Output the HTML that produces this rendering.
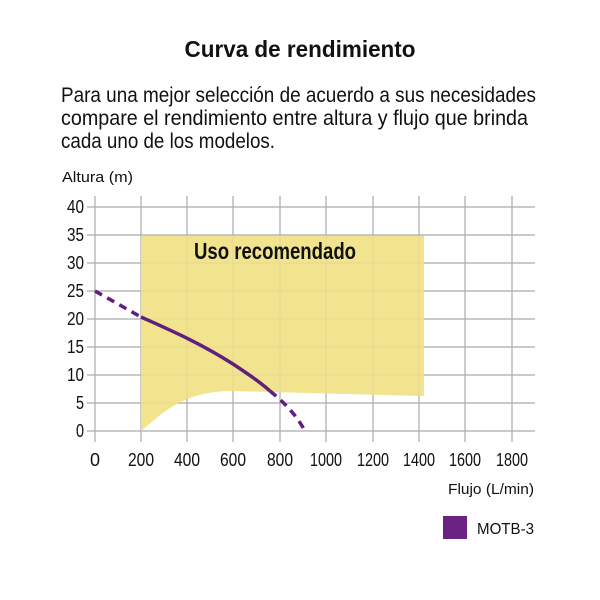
<!DOCTYPE html>
<html><head><meta charset="utf-8"><style>
html,body{margin:0;padding:0;background:#fff}
svg{display:block}
text{font-family:"Liberation Sans Narrow","Liberation Sans",sans-serif;fill:#111}
</style></head><body>
<svg width="600" height="600" viewBox="0 0 600 600">
<text x="300" y="57" font-size="23" font-weight="bold" text-anchor="middle" textLength="231" lengthAdjust="spacingAndGlyphs">Curva de rendimiento</text>
<text x="61" y="102" font-size="21" textLength="475" lengthAdjust="spacingAndGlyphs">Para una mejor selección de acuerdo a sus necesidades</text>
<text x="61" y="125" font-size="21" textLength="467" lengthAdjust="spacingAndGlyphs">compare el rendimiento entre altura y flujo que brinda</text>
<text x="61" y="148" font-size="21" textLength="214" lengthAdjust="spacingAndGlyphs">cada uno de los modelos.</text>
<text x="62" y="182" font-size="15" textLength="71" lengthAdjust="spacingAndGlyphs">Altura (m)</text>
<path d="M141,235.5 H424 V396 L233,391 C200,391 180,400 160,415 L141,431 Z" fill="#f2e48e"/>
<g stroke="#aaa" stroke-width="1.2">
<line x1="87" y1="207" x2="535" y2="207"/><line x1="87" y1="235" x2="535" y2="235"/>
<line x1="87" y1="263" x2="535" y2="263"/><line x1="87" y1="291" x2="535" y2="291"/>
<line x1="87" y1="319" x2="535" y2="319"/><line x1="87" y1="347" x2="535" y2="347"/>
<line x1="87" y1="375" x2="535" y2="375"/><line x1="87" y1="403" x2="535" y2="403"/>
<line x1="87" y1="431" x2="535" y2="431"/>
<line x1="95" y1="196" x2="95" y2="442"/><line x1="141" y1="196" x2="141" y2="442"/>
<line x1="187" y1="196" x2="187" y2="442"/><line x1="233" y1="196" x2="233" y2="442"/>
<line x1="280" y1="196" x2="280" y2="442"/><line x1="326" y1="196" x2="326" y2="442"/>
<line x1="373" y1="196" x2="373" y2="442"/><line x1="419" y1="196" x2="419" y2="442"/>
<line x1="465" y1="196" x2="465" y2="442"/><line x1="512" y1="196" x2="512" y2="442"/>
</g>
<path d="M141,235.5 H424 V396 L233,391 C200,391 180,400 160,415 L141,431 Z" fill="#f2e48e" opacity="0.85"/>
<text x="194" y="259" font-size="23" font-weight="bold" textLength="162" lengthAdjust="spacingAndGlyphs">Uso recomendado</text>
<g font-size="18" text-anchor="end">
<text x="84" y="213" textLength="17" lengthAdjust="spacingAndGlyphs">40</text><text x="84" y="241" textLength="17" lengthAdjust="spacingAndGlyphs">35</text><text x="84" y="269" textLength="17" lengthAdjust="spacingAndGlyphs">30</text>
<text x="84" y="297" textLength="17" lengthAdjust="spacingAndGlyphs">25</text><text x="84" y="325" textLength="17" lengthAdjust="spacingAndGlyphs">20</text><text x="84" y="353" textLength="17" lengthAdjust="spacingAndGlyphs">15</text>
<text x="84" y="381" textLength="17" lengthAdjust="spacingAndGlyphs">10</text><text x="84" y="409" textLength="8" lengthAdjust="spacingAndGlyphs">5</text><text x="84" y="437" textLength="8" lengthAdjust="spacingAndGlyphs">0</text>
</g>
<g font-size="18" text-anchor="middle">
<text x="95" y="466">0</text>
<text x="141" y="466" textLength="26" lengthAdjust="spacingAndGlyphs">200</text>
<text x="187" y="466" textLength="26" lengthAdjust="spacingAndGlyphs">400</text>
<text x="233" y="466" textLength="26" lengthAdjust="spacingAndGlyphs">600</text>
<text x="280" y="466" textLength="26" lengthAdjust="spacingAndGlyphs">800</text>
<text x="326" y="466" textLength="32" lengthAdjust="spacingAndGlyphs">1000</text>
<text x="373" y="466" textLength="32" lengthAdjust="spacingAndGlyphs">1200</text>
<text x="419" y="466" textLength="32" lengthAdjust="spacingAndGlyphs">1400</text>
<text x="465" y="466" textLength="32" lengthAdjust="spacingAndGlyphs">1600</text>
<text x="512" y="466" textLength="32" lengthAdjust="spacingAndGlyphs">1800</text>
</g>
<text x="534" y="494" font-size="15" text-anchor="end" textLength="86" lengthAdjust="spacingAndGlyphs">Flujo (L/min)</text>
<path d="M95,291 L141,317" stroke="#5e1f7e" stroke-width="3.5" fill="none" stroke-dasharray="8,6"/>
<path d="M141,317 C170,330 200,343 233,364 C248,374 260,382 270,391" stroke="#5e1f7e" stroke-width="3.5" fill="none"/>
<path d="M270,391 C285,403 297,416 305,431" stroke="#5e1f7e" stroke-width="3.5" fill="none" stroke-dasharray="8,6"/>
<rect x="443" y="516" width="24" height="23" fill="#6a2384"/>
<text x="477" y="534" font-size="16" textLength="57" lengthAdjust="spacingAndGlyphs">MOTB-3</text>
</svg>
</body></html>
